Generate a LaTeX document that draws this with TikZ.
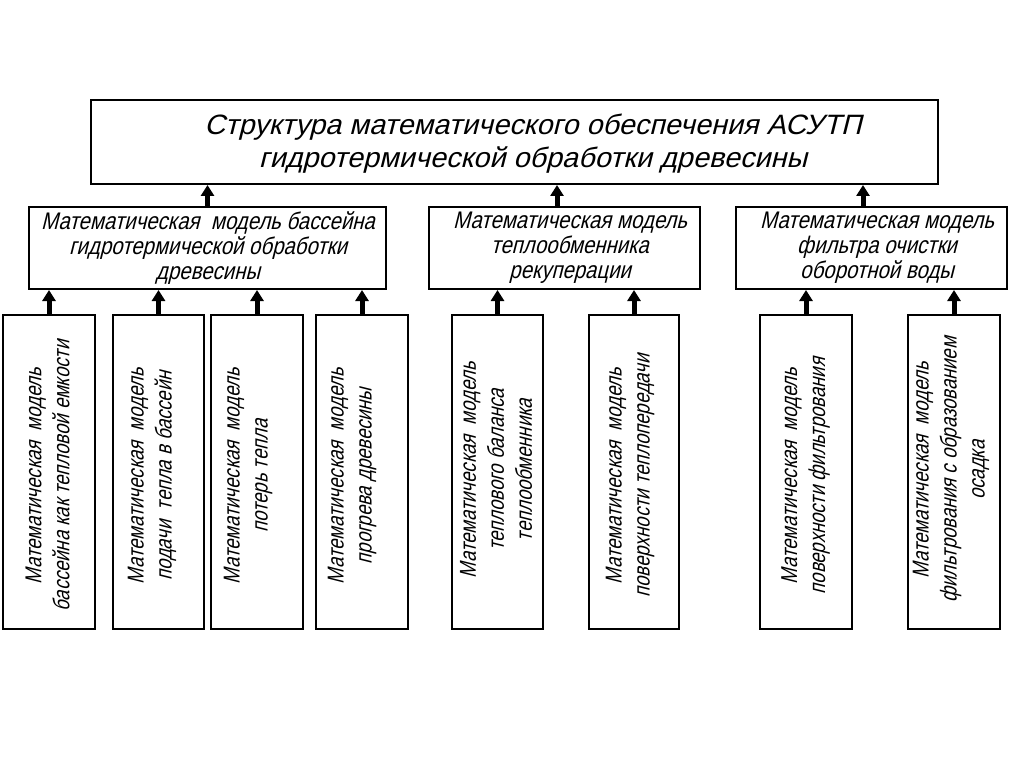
\documentclass[tikz,border=0pt]{standalone}
\usepackage{fontspec}
\setmainfont{Liberation Sans}[FakeSlant=0.25]
\newfontfamily\topfont{Liberation Sans}[FakeSlant=0.25, FakeStretch=1.03]
\newfontfamily\midfont{Liberation Sans}[FakeSlant=0.25, FakeStretch=0.85]
\newfontfamily\botfont{Liberation Sans}[FakeSlant=0.25, FakeStretch=0.8]
\usetikzlibrary{arrows.meta}
\tikzset{
  box/.style={draw, line width=2pt, inner sep=0pt, fill=white},
  arr/.style={line width=5pt, -{Triangle[width=13pt,length=11pt]}},
  toptext/.style={align=center, inner sep=0pt, font=\topfont\fontsize{28}{33}\selectfont},
  midtext/.style={align=center, inner sep=0pt, font=\midfont\fontsize{24}{25}\selectfont},
  bottext/.style={align=center, inner sep=0pt, rotate=90, font=\botfont\fontsize{23}{28}\selectfont},
}
\begin{document}
\begin{tikzpicture}[x=1pt,y=-1pt]
\useasboundingbox (0,0) rectangle (1024,767);
\fill[white] (0,0) rectangle (1024,767);
% top
\node[box, minimum width=847pt, minimum height=84pt] (top) at (514.5,142) {};
\node[toptext] (tt) at (533,144) {Структура математического обеспечения АСУТП\\гидротермической обработки древесины};
% middle
\node[box, minimum width=357pt, minimum height=82pt] (m1) at (207.5,248) {};
\node[box, minimum width=271pt, minimum height=82pt] (m2) at (564.5,248) {};
\node[box, minimum width=271pt, minimum height=82pt] (m3) at (871.5,248) {};
\node[midtext] (m1t) at (208,248) {Математическая~~модель бассейна\\гидротермической обработки\\древесины};
\node[midtext] (m2t) at (570,248) {Математическая модель\\теплообменника\\рекуперации};
\node[midtext] (m3t) at (877,248) {Математическая модель\\фильтра очистки\\оборотной воды};
% bottom
\node[box, minimum width=92pt, minimum height=314pt] (b1) at (49,472) {};
\node[box, minimum width=91pt, minimum height=314pt] (b2) at (158.5,472) {};
\node[box, minimum width=92pt, minimum height=314pt] (b3) at (257,472) {};
\node[box, minimum width=92pt, minimum height=314pt] (b4) at (362,472) {};
\node[box, minimum width=91pt, minimum height=314pt] (b5) at (497.5,472) {};
\node[box, minimum width=90pt, minimum height=314pt] (b6) at (634,472) {};
\node[box, minimum width=92pt, minimum height=314pt] (b7) at (806,472) {};
\node[box, minimum width=92pt, minimum height=314pt] (b8) at (954,472) {};
\node[bottext] (b1t) at (47.5,476) {Математическая~~модель\\бассейна как тепловой емкости};
\node[bottext] (b2t) at (152,476) {Математическая~~модель\\подачи~~тепла в бассейн};
\node[bottext] (b3t) at (248,476) {Математическая~~модель\\потерь тепла};
\node[bottext] (b4t) at (352,476) {Математическая~~модель\\прогрева древесины};
\node[bottext] (b5t) at (496,470) {Математическая~~модель\\теплового баланса\\теплообменника};
\node[bottext] (b6t) at (630,476) {Математическая~~модель\\поверхности теплопередачи};
\node[bottext] (b7t) at (805.5,476) {Математическая~~модель\\поверхности фильтрования};
\node[bottext] (b8t) at (951,470) {Математическая~~модель\\фильтрования с образованием\\осадка};
% arrows
\draw[arr] (m1.north) -- (m1.north |- top.south);
\draw[arr] ([xshift=-7.5pt]m2.north) -- ([xshift=-7.5pt]m2.north |- top.south);
\draw[arr] ([xshift=-8.5pt]m3.north) -- ([xshift=-8.5pt]m3.north |- top.south);
\foreach \b/\m in {b1/m1,b2/m1,b3/m1,b4/m1,b5/m2,b6/m2,b7/m3,b8/m3}
  \draw[arr] (\b.north) -- (\b.north |- \m.south);
\end{tikzpicture}
\end{document}
